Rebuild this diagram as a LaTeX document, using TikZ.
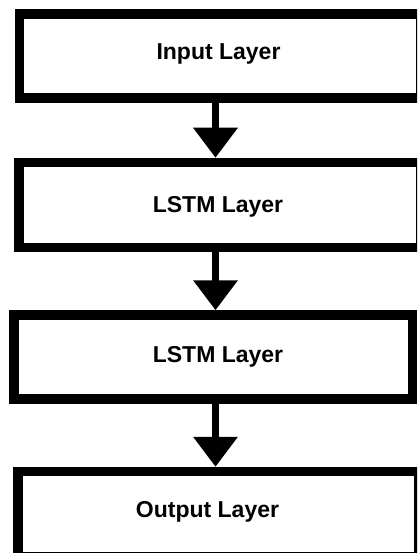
\documentclass[tikz,border=0pt]{standalone}
\usepackage{fontspec}
\setmainfont{Liberation Sans}
\usetikzlibrary{arrows.meta}
\begin{document}
\begin{tikzpicture}[x=1pt,y=-1pt,
  layerbox/.style={draw=black,line width=9.5pt,inner sep=0pt,fill=white},
  lbl/.style={font=\fontsize{23}{27}\selectfont\bfseries,text=black,inner sep=0pt,anchor=base},
  flow/.style={draw=black,line width=7pt,-{Triangle[width=43pt,length=30pt]}}]
\useasboundingbox (0,0) rectangle (417,553);
\clip (0,0) rectangle (417,553);
\fill[white] (0,0) rectangle (417,553);
\node[layerbox,minimum width=401.5pt,minimum height=84pt] (b1) at (220.25,56) {};
\node[layerbox,minimum width=402pt,minimum height=85pt] (b2) at (220,205) {};
\node[layerbox,minimum width=398.5pt,minimum height=84pt] (b3) at (213.25,357) {};
\node[layerbox,minimum width=401pt,minimum height=85.5pt] (b4) at (218.5,514.25) {};
\node[lbl] (t1) at (218.5,60) {Input Layer};
\node[lbl] (t2) at (218,212.7) {LSTM Layer};
\node[lbl] (t3) at (218,362.7) {LSTM Layer};
\node[lbl] (t4) at (207.5,517) {Output Layer};
\coordinate (ax) at (215.5,0);
\draw[flow] (b1.south -| ax) -- (b2.north -| ax);
\draw[flow] (b2.south -| ax) -- (b3.north -| ax);
\draw[flow] (b3.south -| ax) -- (b4.north -| ax);
\end{tikzpicture}
\end{document}
